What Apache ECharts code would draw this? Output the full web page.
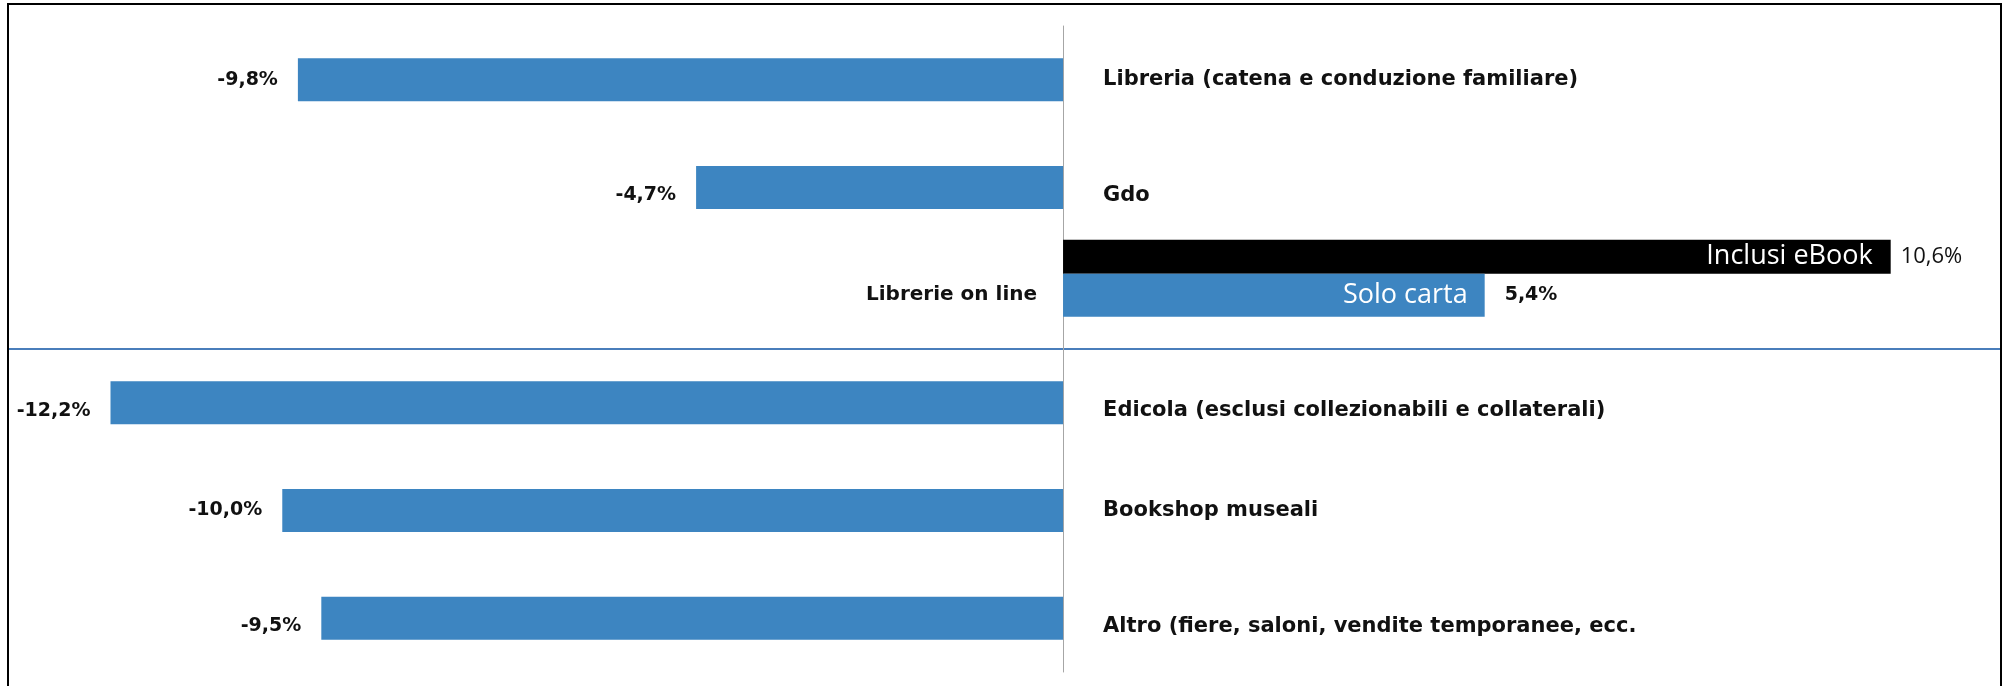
<!DOCTYPE html>
<html>
<head>
<meta charset="utf-8">
<title>Canali di vendita</title>
<script src="https://cdn.jsdelivr.net/npm/echarts@6/dist/echarts.min.js"></script>
<style>
html, body { margin: 0; padding: 0; background: #fff; }
#chart { width: 2006px; height: 686px; }
</style>
</head>
<body>
<div id="chart"></div>
<script>
// canali di vendita, variazione % sull'anno precedente
var categories = [
    'Libreria (catena e conduzione familiare)',
    'Gdo',
    'Librerie on line',
    'Edicola (esclusi collezionabili e collaterali)',
    'Bookshop museali',
    'Altro (fiere, saloni, vendite temporanee, ecc.'
];
var soloCarta = [-9.8, -4.7, 5.4, -12.2, -10.0, -9.5];
var inclusiEbook = [null, null, 10.6, null, null, null];
var valueRange = [-13.5, 12];

// piccolo spostamento verticale delle etichette, riga per riga (come nell'originale)
var labelNudge = [0, 8, 0, 8, 0, 8];

var BLUE = '#3d85c1';
var CLEAR = 'rgba(0,0,0,0)';
var FONT_B = 'DejaVu Sans';
var FONT_R = 'Open Sans';

function pct(v) {
    return v.toFixed(1).replace('.', ',') + '%';
}
function empty() {
    return categories.map(function () { return null; });
}

var chart = echarts.init(document.getElementById('chart'));

var catAxis = function (show) {
    return {
        type: 'category',
        data: categories,
        inverse: true,
        show: show,
        axisLine: { show: show, onZero: true, lineStyle: { color: '#a6a6a6', width: 1 } },
        axisTick: { show: false },
        axisLabel: { show: false },
        splitLine: { show: false }
    };
};

var series = [
    // barre visibili (asse 0): eBook sopra, carta al centro, spazio vuoto sotto
    {
        name: 'Inclusi eBook', type: 'bar', yAxisIndex: 0, barWidth: 34,
        data: inclusiEbook,
        itemStyle: { color: '#000' },
        label: {
            show: true, position: 'insideRight', distance: 18, formatter: '{a}',
            color: '#fff', fontFamily: FONT_R, fontSize: 27
        }
    },
    {
        name: 'Solo carta', type: 'bar', yAxisIndex: 0, barWidth: 43,
        data: soloCarta.map(function (v, i) {
            return {
                value: v,
                label: { position: v < 0 ? 'left' : 'right', offset: [0, labelNudge[i]] }
            };
        }),
        itemStyle: { color: BLUE },
        label: {
            show: true, distance: 20,
            formatter: function (p) { return pct(p.value); },
            color: '#111', fontFamily: FONT_B, fontWeight: 'bold', fontSize: 19
        }
    },
    { type: 'bar', yAxisIndex: 0, barWidth: 34, barGap: '0%', data: empty(), silent: true },

    // etichette (asse 1): valore eBook e nomi dei canali
    {
        type: 'bar', yAxisIndex: 1, barWidth: 34, silent: true,
        data: inclusiEbook,
        itemStyle: { color: CLEAR },
        label: {
            show: true, position: 'right', distance: 10,
            formatter: function (p) { return pct(p.value); },
            color: '#111', fontFamily: FONT_R, fontSize: 22
        }
    },
    {
        type: 'bar', yAxisIndex: 1, barWidth: 43, silent: true,
        data: soloCarta.map(function (v, i) {
            return {
                value: v,
                label: v < 0
                    ? { position: 'right', distance: 40, fontSize: 21, offset: [0, labelNudge[i]] }
                    : { position: 'left', distance: 26, fontSize: 20, offset: [0, labelNudge[i]] }
            };
        }),
        itemStyle: { color: CLEAR },
        label: { show: true, formatter: '{b}', color: '#111', fontFamily: FONT_B, fontWeight: 'bold' }
    },
    { type: 'bar', yAxisIndex: 1, barWidth: 34, barGap: '0%', data: empty(), silent: true },

    // etichetta "Solo carta" dentro la barra (asse 2)
    {
        name: 'Solo carta', type: 'bar', yAxisIndex: 2, barWidth: 43, silent: true,
        data: soloCarta.map(function (v) { return v > 0 ? v : null; }),
        itemStyle: { color: CLEAR },
        label: {
            show: true, position: 'insideRight', distance: 17, formatter: '{a}',
            color: '#fff', fontFamily: FONT_R, fontSize: 27
        }
    }
];

chart.setOption({
    animation: false,
    grid: { left: 9, right: 6, top: 26, bottom: 14 },
    xAxis: {
        type: 'value', min: valueRange[0], max: valueRange[1],
        axisLine: { show: false }, axisTick: { show: false },
        axisLabel: { show: false }, splitLine: { show: false }
    },
    yAxis: [catAxis(true), catAxis(false), catAxis(false)],
    series: series
});

// linea di separazione tra canali tradizionali e altri canali
var yA = chart.convertToPixel({ yAxisIndex: 0 }, categories[2]);
var yB = chart.convertToPixel({ yAxisIndex: 0 }, categories[3]);
var ySep = (yA + yB) / 2;
var xL = chart.convertToPixel({ xAxisIndex: 0 }, valueRange[0]) - 1;
var xR = chart.convertToPixel({ xAxisIndex: 0 }, valueRange[1]) + 1;

chart.setOption({
    graphic: [
        {
            type: 'line', silent: true,
            shape: { x1: xL, y1: ySep, x2: xR, y2: ySep },
            style: { stroke: '#4a7ebb', lineWidth: 2 }
        },
        {
            type: 'polyline', silent: true,
            shape: { points: [[xL, 686], [xL, 4], [xR, 4], [xR, 686]] },
            style: { stroke: '#000', lineWidth: 2, fill: null }
        }
    ]
});
</script>
</body>
</html>
